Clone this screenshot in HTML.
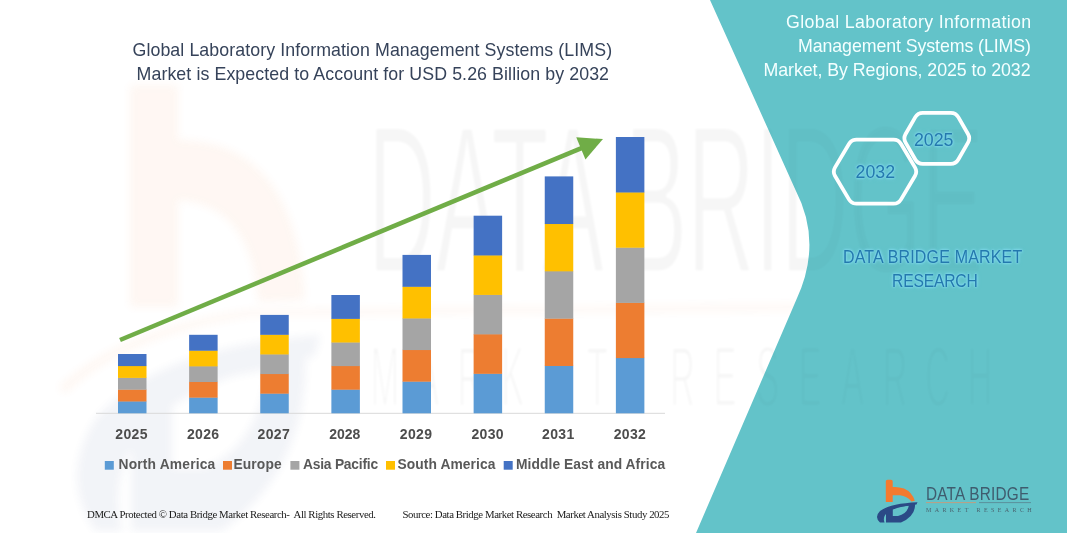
<!DOCTYPE html>
<html><head><meta charset="utf-8"><style>
html,body{margin:0;padding:0;background:#fff;}
body{width:1067px;height:533px;position:relative;overflow:hidden;}
</style></head><body>
<svg width="1067" height="533" viewBox="0 0 1067 533" style="position:absolute;left:0;top:0">
<defs><filter id="bl" x="-10%" y="-10%" width="120%" height="120%"><feGaussianBlur stdDeviation="1.2"/></filter>
<mask id="wmm" maskUnits="userSpaceOnUse" x="0" y="0" width="1067" height="533"><text x="0" y="0" font-family="Liberation Sans" font-size="210" transform="translate(368,272) scale(0.446,1)" fill="#fff" stroke="#000" stroke-width="2.6" vector-effect="non-scaling-stroke">DATA BRIDGE</text><text x="0" y="0" font-family="Liberation Sans" font-size="86" text-anchor="middle" transform="translate(385.0,406) scale(0.396,1)" fill="#fff" stroke="#000" stroke-width="2.2" vector-effect="non-scaling-stroke">M</text><text x="0" y="0" font-family="Liberation Sans" font-size="86" text-anchor="middle" transform="translate(427.5,406) scale(0.396,1)" fill="#fff" stroke="#000" stroke-width="2.2" vector-effect="non-scaling-stroke">A</text><text x="0" y="0" font-family="Liberation Sans" font-size="86" text-anchor="middle" transform="translate(470.0,406) scale(0.396,1)" fill="#fff" stroke="#000" stroke-width="2.2" vector-effect="non-scaling-stroke">R</text><text x="0" y="0" font-family="Liberation Sans" font-size="86" text-anchor="middle" transform="translate(512.5,406) scale(0.396,1)" fill="#fff" stroke="#000" stroke-width="2.2" vector-effect="non-scaling-stroke">K</text><text x="0" y="0" font-family="Liberation Sans" font-size="86" text-anchor="middle" transform="translate(555.0,406) scale(0.396,1)" fill="#fff" stroke="#000" stroke-width="2.2" vector-effect="non-scaling-stroke">E</text><text x="0" y="0" font-family="Liberation Sans" font-size="86" text-anchor="middle" transform="translate(597.5,406) scale(0.396,1)" fill="#fff" stroke="#000" stroke-width="2.2" vector-effect="non-scaling-stroke">T</text><text x="0" y="0" font-family="Liberation Sans" font-size="86" text-anchor="middle" transform="translate(682.5,406) scale(0.396,1)" fill="#fff" stroke="#000" stroke-width="2.2" vector-effect="non-scaling-stroke">R</text><text x="0" y="0" font-family="Liberation Sans" font-size="86" text-anchor="middle" transform="translate(725.0,406) scale(0.396,1)" fill="#fff" stroke="#000" stroke-width="2.2" vector-effect="non-scaling-stroke">E</text><text x="0" y="0" font-family="Liberation Sans" font-size="86" text-anchor="middle" transform="translate(767.5,406) scale(0.396,1)" fill="#fff" stroke="#000" stroke-width="2.2" vector-effect="non-scaling-stroke">S</text><text x="0" y="0" font-family="Liberation Sans" font-size="86" text-anchor="middle" transform="translate(810.0,406) scale(0.396,1)" fill="#fff" stroke="#000" stroke-width="2.2" vector-effect="non-scaling-stroke">E</text><text x="0" y="0" font-family="Liberation Sans" font-size="86" text-anchor="middle" transform="translate(852.5,406) scale(0.396,1)" fill="#fff" stroke="#000" stroke-width="2.2" vector-effect="non-scaling-stroke">A</text><text x="0" y="0" font-family="Liberation Sans" font-size="86" text-anchor="middle" transform="translate(895.0,406) scale(0.396,1)" fill="#fff" stroke="#000" stroke-width="2.2" vector-effect="non-scaling-stroke">R</text><text x="0" y="0" font-family="Liberation Sans" font-size="86" text-anchor="middle" transform="translate(937.5,406) scale(0.396,1)" fill="#fff" stroke="#000" stroke-width="2.2" vector-effect="non-scaling-stroke">C</text><text x="0" y="0" font-family="Liberation Sans" font-size="86" text-anchor="middle" transform="translate(980.0,406) scale(0.396,1)" fill="#fff" stroke="#000" stroke-width="2.2" vector-effect="non-scaling-stroke">H</text></mask>
<clipPath id="tclip"><path d="M710,0 L1067,0 L1067,533 L696,533 L796.2,300 Q823,243 795.5,190 Z"/></clipPath>
<filter id="bl2" x="-20%" y="-20%" width="140%" height="140%"><feGaussianBlur stdDeviation="4"/></filter></defs>
<g opacity="0.06" filter="url(#bl2)">
 <rect x="130" y="85" width="48" height="222" fill="#F47B30"/>
 <path d="M178,140 Q295,140 305,300 L258,302 Q252,205 178,200 Z" fill="#F47B30"/>
 <path d="M58,388 Q120,328 250,310 L1000,302 L1000,308 L250,316 Q125,336 66,393 Z" fill="#F47B30"/>
 <g transform="matrix(6,0,0,9.7,-5184.8,-4537.3)">
 <path d="M880,522.5 Q874,517 880,511 Q890,503.5 917.5,502.3 L916.5,504.5 Q899,506 889,511.5 Q882,516 884.5,522.5 Z" fill="#2F4A8A"/>
 <path d="M886,510 Q898,504 915,503.3 Q916,516 901,522.5 L886,522.5 Z M892.8,507.8 L908.8,505.8 Q907,514 898,516 L892.8,516 Z" fill="#2F4A8A" fill-rule="evenodd"/>
 </g>
</g>

<g opacity="0.035" filter="url(#bl)">
 <rect x="300" y="100" width="767" height="200" fill="#000" mask="url(#wmm)"/>
 <rect x="300" y="330" width="767" height="90" fill="#000" mask="url(#wmm)"/>
</g>
<path d="M710,0 L1067,0 L1067,533 L696,533 L796.2,300 Q823,243 795.5,190 Z" fill="#63C3C9"/>
<g opacity="0.02" filter="url(#bl)" clip-path="url(#tclip)">
 <rect x="300" y="100" width="767" height="200" fill="#000" mask="url(#wmm)"/>
 <rect x="300" y="330" width="767" height="90" fill="#000" mask="url(#wmm)"/>
</g>

<line x1="96" y1="413.3" x2="665" y2="413.3" stroke="#D9D9D9" stroke-width="1"/>
<rect x="118.00" y="401.20" width="28.5" height="12.10" fill="#5B9BD5"/>
<rect x="118.00" y="389.40" width="28.5" height="12.10" fill="#ED7D31"/>
<rect x="118.00" y="377.60" width="28.5" height="12.10" fill="#A5A5A5"/>
<rect x="118.00" y="365.80" width="28.5" height="12.10" fill="#FFC000"/>
<rect x="118.00" y="354.00" width="28.5" height="12.10" fill="#4472C4"/>
<rect x="189.12" y="397.36" width="28.5" height="15.94" fill="#5B9BD5"/>
<rect x="189.12" y="381.72" width="28.5" height="15.94" fill="#ED7D31"/>
<rect x="189.12" y="366.08" width="28.5" height="15.94" fill="#A5A5A5"/>
<rect x="189.12" y="350.44" width="28.5" height="15.94" fill="#FFC000"/>
<rect x="189.12" y="334.80" width="28.5" height="15.94" fill="#4472C4"/>
<rect x="260.25" y="393.38" width="28.5" height="19.92" fill="#5B9BD5"/>
<rect x="260.25" y="373.76" width="28.5" height="19.92" fill="#ED7D31"/>
<rect x="260.25" y="354.14" width="28.5" height="19.92" fill="#A5A5A5"/>
<rect x="260.25" y="334.52" width="28.5" height="19.92" fill="#FFC000"/>
<rect x="260.25" y="314.90" width="28.5" height="19.92" fill="#4472C4"/>
<rect x="331.38" y="389.40" width="28.5" height="23.90" fill="#5B9BD5"/>
<rect x="331.38" y="365.80" width="28.5" height="23.90" fill="#ED7D31"/>
<rect x="331.38" y="342.20" width="28.5" height="23.90" fill="#A5A5A5"/>
<rect x="331.38" y="318.60" width="28.5" height="23.90" fill="#FFC000"/>
<rect x="331.38" y="295.00" width="28.5" height="23.90" fill="#4472C4"/>
<rect x="402.50" y="381.38" width="28.5" height="31.92" fill="#5B9BD5"/>
<rect x="402.50" y="349.76" width="28.5" height="31.92" fill="#ED7D31"/>
<rect x="402.50" y="318.14" width="28.5" height="31.92" fill="#A5A5A5"/>
<rect x="402.50" y="286.52" width="28.5" height="31.92" fill="#FFC000"/>
<rect x="402.50" y="254.90" width="28.5" height="31.92" fill="#4472C4"/>
<rect x="473.62" y="373.54" width="28.5" height="39.76" fill="#5B9BD5"/>
<rect x="473.62" y="334.08" width="28.5" height="39.76" fill="#ED7D31"/>
<rect x="473.62" y="294.62" width="28.5" height="39.76" fill="#A5A5A5"/>
<rect x="473.62" y="255.16" width="28.5" height="39.76" fill="#FFC000"/>
<rect x="473.62" y="215.70" width="28.5" height="39.76" fill="#4472C4"/>
<rect x="544.75" y="365.68" width="28.5" height="47.62" fill="#5B9BD5"/>
<rect x="544.75" y="318.36" width="28.5" height="47.62" fill="#ED7D31"/>
<rect x="544.75" y="271.04" width="28.5" height="47.62" fill="#A5A5A5"/>
<rect x="544.75" y="223.72" width="28.5" height="47.62" fill="#FFC000"/>
<rect x="544.75" y="176.40" width="28.5" height="47.62" fill="#4472C4"/>
<rect x="615.88" y="357.80" width="28.5" height="55.50" fill="#5B9BD5"/>
<rect x="615.88" y="302.60" width="28.5" height="55.50" fill="#ED7D31"/>
<rect x="615.88" y="247.40" width="28.5" height="55.50" fill="#A5A5A5"/>
<rect x="615.88" y="192.20" width="28.5" height="55.50" fill="#FFC000"/>
<rect x="615.88" y="137.00" width="28.5" height="55.50" fill="#4472C4"/>
<line x1="120" y1="340" x2="582.69" y2="147.55" stroke="#70AD47" stroke-width="4.6"/><polygon points="603,139.1 585.45,159.40 576.23,137.24" fill="#70AD47"/>
<path d="M835.05,176.00 Q832.50,171.70 835.05,167.40 L848.95,144.00 Q851.50,139.70 856.50,139.70 L893.50,139.70 Q898.50,139.70 901.05,144.00 L914.95,167.40 Q917.50,171.70 914.95,176.00 L901.05,199.40 Q898.50,203.70 893.50,203.70 L856.50,203.70 Q851.50,203.70 848.95,199.40 Z" fill="none" stroke="#FFFFFF" stroke-width="3.8" stroke-linejoin="round"/><path d="M905.60,142.63 Q903.10,138.30 905.60,133.97 L915.30,117.13 Q917.80,112.80 922.80,112.80 L950.80,112.80 Q955.80,112.80 958.30,117.13 L968.00,133.97 Q970.50,138.30 968.00,142.63 L958.30,159.47 Q955.80,163.80 950.80,163.80 L922.80,163.80 Q917.80,163.80 915.30,159.47 Z" fill="none" stroke="#FFFFFF" stroke-width="3.8" stroke-linejoin="round"/>
<rect x="104.8" y="461" width="9" height="8.7" fill="#5B9BD5"/><rect x="223" y="461" width="9" height="8.7" fill="#ED7D31"/><rect x="290.4" y="461" width="9" height="8.7" fill="#A5A5A5"/><rect x="386" y="461" width="9" height="8.7" fill="#FFC000"/><rect x="503.7" y="461" width="9" height="8.7" fill="#4472C4"/>
<path d="M885.8,481.2 Q885.8,479.7 887.5,479.7 L891,479.7 Q892.7,479.7 892.7,481.2 L892.7,487 Q898,486.5 904,488.5 Q912,492 914.8,500.8 L911.5,501.5 Q907,496 900,495.3 L892.7,495.3 L892.7,502 L885.8,502 Z" fill="#F47A2E"/>
<path d="M880,522.5 Q874,517 880,511 Q890,503.5 917.5,502.3 L916.5,504.5 Q899,506 889,511.5 Q882,516 884.5,522.5 Z" fill="#2B4A86"/>
<path d="M886,510 Q898,504 915,503.3 Q916,516 901,522.5 L886,522.5 Z M892.8,507.8 L908.8,505.8 Q907,514 898,516 L892.8,516 Z" fill="#2B4A86" fill-rule="evenodd"/>
<line x1="926" y1="502.6" x2="976" y2="502.6" stroke="#C99A7A" stroke-width="0.9"/>
<line x1="979" y1="502.6" x2="1031" y2="502.6" stroke="#5A8A96" stroke-width="0.9"/>
<text x="926" y="511.5" font-family="Liberation Serif" font-size="6" letter-spacing="3.4" fill="#4A6470">MARKET  RESEARCH</text>
</svg>
<div style="position:absolute;left:132.50px;top:41.87px;font-family:'Liberation Sans', sans-serif;font-weight:400;font-size:17.8px;line-height:17.8px;letter-spacing:0.078px;color:#36435A;white-space:pre">Global Laboratory Information Management Systems (LIMS)</div>
<div style="position:absolute;left:136.50px;top:65.87px;font-family:'Liberation Sans', sans-serif;font-weight:400;font-size:17.8px;line-height:17.8px;letter-spacing:0.088px;color:#36435A;white-space:pre">Market is Expected to Account for USD 5.26 Billion by 2032</div>
<div style="position:absolute;left:786.00px;top:13.87px;font-family:'Liberation Sans', sans-serif;font-weight:400;font-size:17.8px;line-height:17.8px;letter-spacing:0.357px;color:#F4FFFF;white-space:pre">Global Laboratory Information</div>
<div style="position:absolute;left:798.00px;top:37.87px;font-family:'Liberation Sans', sans-serif;font-weight:400;font-size:17.8px;line-height:17.8px;letter-spacing:-0.092px;color:#F4FFFF;white-space:pre">Management Systems (LIMS)</div>
<div style="position:absolute;left:763.50px;top:62.37px;font-family:'Liberation Sans', sans-serif;font-weight:400;font-size:17.8px;line-height:17.8px;letter-spacing:-0.058px;color:#F4FFFF;white-space:pre">Market, By Regions, 2025 to 2032</div>
<div style="position:absolute;left:855.50px;top:163.87px;font-family:'Liberation Sans', sans-serif;font-weight:400;font-size:17.8px;line-height:17.8px;letter-spacing:0.000px;color:#2479AE;white-space:pre;text-shadow:0 0 2px rgba(135,222,245,1),0 0 3px rgba(135,222,245,0.9),0 0 5px rgba(135,222,245,0.6)">2032</div>
<div style="position:absolute;left:914.00px;top:132.37px;font-family:'Liberation Sans', sans-serif;font-weight:400;font-size:17.8px;line-height:17.8px;letter-spacing:-0.067px;color:#2479AE;white-space:pre;text-shadow:0 0 2px rgba(135,222,245,1),0 0 3px rgba(135,222,245,0.9),0 0 5px rgba(135,222,245,0.6)">2025</div>
<div style="position:absolute;left:842.50px;top:248.87px;font-family:'Liberation Sans', sans-serif;font-weight:400;font-size:17.8px;line-height:17.8px;letter-spacing:0.183px;color:#2479AE;white-space:pre;transform-origin:0 0;transform:scaleX(0.9);text-shadow:0 0 2px rgba(135,222,245,1),0 0 3px rgba(135,222,245,0.9),0 0 5px rgba(135,222,245,0.6)">DATA BRIDGE MARKET</div>
<div style="position:absolute;left:892.00px;top:272.87px;font-family:'Liberation Sans', sans-serif;font-weight:400;font-size:17.8px;line-height:17.8px;letter-spacing:-0.195px;color:#2479AE;white-space:pre;transform-origin:0 0;transform:scaleX(0.88);text-shadow:0 0 2px rgba(135,222,245,1),0 0 3px rgba(135,222,245,0.9),0 0 5px rgba(135,222,245,0.6)">RESEARCH</div>
<div style="position:absolute;left:118.50px;top:458.27px;font-family:'Liberation Sans', sans-serif;font-weight:700;font-size:13.8px;line-height:13.8px;letter-spacing:0.183px;color:#595959;white-space:pre">North America</div>
<div style="position:absolute;left:233.50px;top:458.27px;font-family:'Liberation Sans', sans-serif;font-weight:700;font-size:13.8px;line-height:13.8px;letter-spacing:0.120px;color:#595959;white-space:pre">Europe</div>
<div style="position:absolute;left:303.00px;top:458.27px;font-family:'Liberation Sans', sans-serif;font-weight:700;font-size:13.8px;line-height:13.8px;letter-spacing:-0.218px;color:#595959;white-space:pre">Asia Pacific</div>
<div style="position:absolute;left:397.50px;top:458.27px;font-family:'Liberation Sans', sans-serif;font-weight:700;font-size:13.8px;line-height:13.8px;letter-spacing:0.083px;color:#595959;white-space:pre">South America</div>
<div style="position:absolute;left:516.00px;top:458.27px;font-family:'Liberation Sans', sans-serif;font-weight:700;font-size:13.8px;line-height:13.8px;letter-spacing:0.076px;color:#595959;white-space:pre">Middle East and Africa</div>
<div style="position:absolute;left:87.00px;top:508.82px;font-family:'Liberation Serif', serif;font-weight:400;font-size:10.8px;line-height:10.8px;letter-spacing:-0.412px;color:#1A1A1A;white-space:pre">DMCA Protected © Data Bridge Market Research-  All Rights Reserved.</div>
<div style="position:absolute;left:402.50px;top:508.82px;font-family:'Liberation Serif', serif;font-weight:400;font-size:10.8px;line-height:10.8px;letter-spacing:-0.419px;color:#1A1A1A;white-space:pre">Source: Data Bridge Market Research  Market Analysis Study 2025</div>
<div style="position:absolute;left:925.50px;top:483.68px;font-family:'Liberation Sans', sans-serif;font-weight:400;font-size:19.2px;line-height:19.2px;letter-spacing:0.275px;color:#3F5C6E;white-space:pre;transform-origin:0 0;transform:scaleX(0.8)">DATA BRIDGE</div>
<div style="position:absolute;left:115.30px;top:427.10px;font-family:'Liberation Sans', sans-serif;font-weight:700;font-size:14.0px;line-height:14.0px;letter-spacing:0.333px;color:#4D4D4D;white-space:pre">2025</div>
<div style="position:absolute;left:186.93px;top:427.10px;font-family:'Liberation Sans', sans-serif;font-weight:700;font-size:14.0px;line-height:14.0px;letter-spacing:0.333px;color:#4D4D4D;white-space:pre">2026</div>
<div style="position:absolute;left:257.55px;top:427.10px;font-family:'Liberation Sans', sans-serif;font-weight:700;font-size:14.0px;line-height:14.0px;letter-spacing:0.333px;color:#4D4D4D;white-space:pre">2027</div>
<div style="position:absolute;left:329.18px;top:427.10px;font-family:'Liberation Sans', sans-serif;font-weight:700;font-size:14.0px;line-height:14.0px;letter-spacing:0.000px;color:#4D4D4D;white-space:pre">2028</div>
<div style="position:absolute;left:399.80px;top:427.10px;font-family:'Liberation Sans', sans-serif;font-weight:700;font-size:14.0px;line-height:14.0px;letter-spacing:0.333px;color:#4D4D4D;white-space:pre">2029</div>
<div style="position:absolute;left:471.43px;top:427.10px;font-family:'Liberation Sans', sans-serif;font-weight:700;font-size:14.0px;line-height:14.0px;letter-spacing:0.333px;color:#4D4D4D;white-space:pre">2030</div>
<div style="position:absolute;left:542.05px;top:427.10px;font-family:'Liberation Sans', sans-serif;font-weight:700;font-size:14.0px;line-height:14.0px;letter-spacing:0.333px;color:#4D4D4D;white-space:pre">2031</div>
<div style="position:absolute;left:613.67px;top:427.10px;font-family:'Liberation Sans', sans-serif;font-weight:700;font-size:14.0px;line-height:14.0px;letter-spacing:0.333px;color:#4D4D4D;white-space:pre">2032</div>
</body></html>
